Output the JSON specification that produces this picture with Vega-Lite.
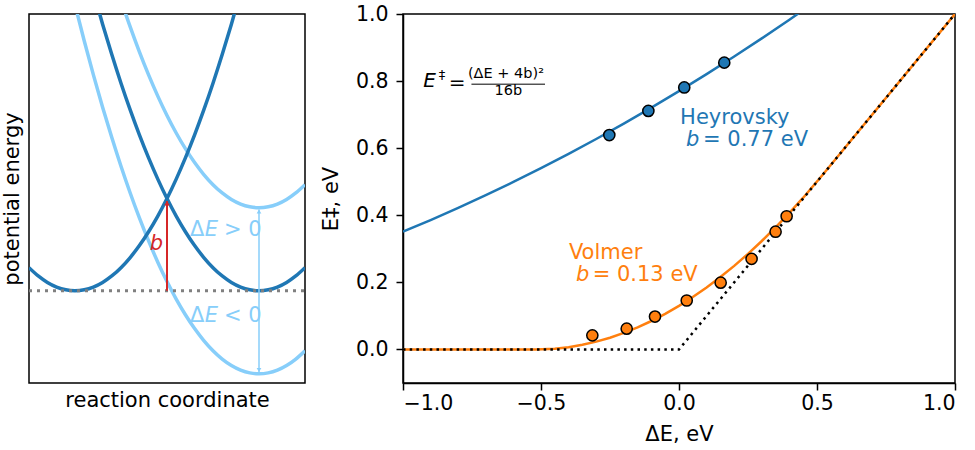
{
  "$schema": "https://vega.github.io/schema/vega-lite/v6.json",
  "background": "white",
  "padding": {"left": 0, "top": 3, "right": 10, "bottom": 0},
  "spacing": 13,
  "config": {
    "font": "DejaVu Sans",
    "view": {"stroke": "black", "strokeWidth": 1.5},
    "axis": {"grid": false, "labelFont": "DejaVu Sans", "titleFont": "DejaVu Sans", "labelFontSize": 20.5, "titleFontSize": 21, "titleFontWeight": "normal", "labelColor": "black", "titleColor": "black", "domainColor": "black", "tickColor": "black", "domainWidth": 1.5, "tickWidth": 1.5, "tickSize": 7},
    "text": {"font": "DejaVu Sans"}
  },
  "hconcat": [
    {
      "width": 276,
      "height": 369,
      "encoding": {
        "x": {"field": "x", "type": "quantitative", "scale": {"domain": [-1.5, 1.5], "nice": false}, "axis": {"title": "reaction coordinate", "labels": false, "ticks": false, "domain": false, "titlePadding": 6}},
        "y": {"field": "y", "type": "quantitative", "scale": {"domain": [-1, 3], "nice": false}, "axis": {"title": "potential energy", "labels": false, "ticks": false, "domain": false, "titlePadding": 7}}
      },
      "layer": [
        {
          "data": {"values": [
            {"curve": "up", "x": -0.6, "y": 3.46}, {"curve": "up", "x": -0.5, "y": 3.15}, {"curve": "up", "x": -0.4, "y": 2.86}, {"curve": "up", "x": -0.3, "y": 2.59}, {"curve": "up", "x": -0.2, "y": 2.34}, {"curve": "up", "x": -0.1, "y": 2.11}, {"curve": "up", "x": 0, "y": 1.9}, {"curve": "up", "x": 0.1, "y": 1.71}, {"curve": "up", "x": 0.2, "y": 1.54}, {"curve": "up", "x": 0.3, "y": 1.39}, {"curve": "up", "x": 0.4, "y": 1.26}, {"curve": "up", "x": 0.5, "y": 1.15}, {"curve": "up", "x": 0.6, "y": 1.06}, {"curve": "up", "x": 0.7, "y": 0.99}, {"curve": "up", "x": 0.8, "y": 0.94}, {"curve": "up", "x": 0.9, "y": 0.91}, {"curve": "up", "x": 1.0, "y": 0.9}, {"curve": "up", "x": 1.1, "y": 0.91}, {"curve": "up", "x": 1.2, "y": 0.94}, {"curve": "up", "x": 1.3, "y": 0.99}, {"curve": "up", "x": 1.4, "y": 1.06}, {"curve": "up", "x": 1.5, "y": 1.15},
            {"curve": "down", "x": -1.1, "y": 3.51}, {"curve": "down", "x": -1.0, "y": 3.1}, {"curve": "down", "x": -0.9, "y": 2.71}, {"curve": "down", "x": -0.8, "y": 2.34}, {"curve": "down", "x": -0.7, "y": 1.99}, {"curve": "down", "x": -0.6, "y": 1.66}, {"curve": "down", "x": -0.5, "y": 1.35}, {"curve": "down", "x": -0.4, "y": 1.06}, {"curve": "down", "x": -0.3, "y": 0.79}, {"curve": "down", "x": -0.2, "y": 0.54}, {"curve": "down", "x": -0.1, "y": 0.31}, {"curve": "down", "x": 0, "y": 0.1}, {"curve": "down", "x": 0.1, "y": -0.09}, {"curve": "down", "x": 0.2, "y": -0.26}, {"curve": "down", "x": 0.3, "y": -0.41}, {"curve": "down", "x": 0.4, "y": -0.54}, {"curve": "down", "x": 0.5, "y": -0.65}, {"curve": "down", "x": 0.6, "y": -0.74}, {"curve": "down", "x": 0.7, "y": -0.81}, {"curve": "down", "x": 0.8, "y": -0.86}, {"curve": "down", "x": 0.9, "y": -0.89}, {"curve": "down", "x": 1.0, "y": -0.9}, {"curve": "down", "x": 1.1, "y": -0.89}, {"curve": "down", "x": 1.2, "y": -0.86}, {"curve": "down", "x": 1.3, "y": -0.81}, {"curve": "down", "x": 1.4, "y": -0.74}, {"curve": "down", "x": 1.5, "y": -0.65}
          ]},
          "mark": {"type": "line", "clip": true, "strokeWidth": 3.5, "color": "#87cefa", "interpolate": "monotone"},
          "encoding": {"detail": {"field": "curve"}}
        },
        {
          "data": {"values": [
            {"curve": "L", "x": -1.5, "y": 0.25}, {"curve": "L", "x": -1.4, "y": 0.16}, {"curve": "L", "x": -1.3, "y": 0.09}, {"curve": "L", "x": -1.2, "y": 0.04}, {"curve": "L", "x": -1.1, "y": 0.01}, {"curve": "L", "x": -1.0, "y": 0}, {"curve": "L", "x": -0.9, "y": 0.01}, {"curve": "L", "x": -0.8, "y": 0.04}, {"curve": "L", "x": -0.7, "y": 0.09}, {"curve": "L", "x": -0.6, "y": 0.16}, {"curve": "L", "x": -0.5, "y": 0.25}, {"curve": "L", "x": -0.4, "y": 0.36}, {"curve": "L", "x": -0.3, "y": 0.49}, {"curve": "L", "x": -0.2, "y": 0.64}, {"curve": "L", "x": -0.1, "y": 0.81}, {"curve": "L", "x": 0, "y": 1}, {"curve": "L", "x": 0.1, "y": 1.21}, {"curve": "L", "x": 0.2, "y": 1.44}, {"curve": "L", "x": 0.3, "y": 1.69}, {"curve": "L", "x": 0.4, "y": 1.96}, {"curve": "L", "x": 0.5, "y": 2.25}, {"curve": "L", "x": 0.6, "y": 2.56}, {"curve": "L", "x": 0.7, "y": 2.89}, {"curve": "L", "x": 0.8, "y": 3.24}, {"curve": "L", "x": 0.9, "y": 3.61},
            {"curve": "R", "x": -0.9, "y": 3.61}, {"curve": "R", "x": -0.8, "y": 3.24}, {"curve": "R", "x": -0.7, "y": 2.89}, {"curve": "R", "x": -0.6, "y": 2.56}, {"curve": "R", "x": -0.5, "y": 2.25}, {"curve": "R", "x": -0.4, "y": 1.96}, {"curve": "R", "x": -0.3, "y": 1.69}, {"curve": "R", "x": -0.2, "y": 1.44}, {"curve": "R", "x": -0.1, "y": 1.21}, {"curve": "R", "x": 0, "y": 1}, {"curve": "R", "x": 0.1, "y": 0.81}, {"curve": "R", "x": 0.2, "y": 0.64}, {"curve": "R", "x": 0.3, "y": 0.49}, {"curve": "R", "x": 0.4, "y": 0.36}, {"curve": "R", "x": 0.5, "y": 0.25}, {"curve": "R", "x": 0.6, "y": 0.16}, {"curve": "R", "x": 0.7, "y": 0.09}, {"curve": "R", "x": 0.8, "y": 0.04}, {"curve": "R", "x": 0.9, "y": 0.01}, {"curve": "R", "x": 1.0, "y": 0}, {"curve": "R", "x": 1.1, "y": 0.01}, {"curve": "R", "x": 1.2, "y": 0.04}, {"curve": "R", "x": 1.3, "y": 0.09}, {"curve": "R", "x": 1.4, "y": 0.16}, {"curve": "R", "x": 1.5, "y": 0.25}
          ]},
          "mark": {"type": "line", "clip": true, "strokeWidth": 3.5, "color": "#1f77b4", "interpolate": "monotone"},
          "encoding": {"detail": {"field": "curve"}}
        },
        {
          "data": {"values": [{"x": -1.5, "y": 0}, {"x": 1.5, "y": 0}]},
          "mark": {"type": "line", "clip": true, "strokeWidth": 3, "color": "#808080", "strokeDash": [3, 5]},
          "encoding": {}
        },
        {
          "data": {"values": [{"x": 0, "y": 0, "y2": 0.97}]},
          "mark": {"type": "rule", "strokeWidth": 2, "color": "#d62728"},
          "encoding": {"y2": {"field": "y2"}}
        },
        {
          "data": {"values": [{"x": 0, "y": 0.95}]},
          "mark": {"type": "point", "shape": "triangle-up", "filled": true, "size": 30, "color": "#d62728", "opacity": 1},
          "encoding": {}
        },
        {
          "data": {"values": [{"x": 1, "y": -0.88, "y2": 0.88}]},
          "mark": {"type": "rule", "strokeWidth": 1.5, "color": "#87cefa"},
          "encoding": {"y2": {"field": "y2"}}
        },
        {
          "data": {"values": [{"x": 1, "y": 0.86, "s": "up"}, {"x": 1, "y": -0.86, "s": "down"}]},
          "mark": {"type": "point", "filled": true, "size": 22, "color": "#87cefa", "opacity": 1},
          "encoding": {"shape": {"field": "s", "type": "nominal", "scale": {"domain": ["up", "down"], "range": ["triangle-up", "triangle-down"]}, "legend": null}}
        },
        {
          "data": {"values": [{"x": -0.043, "y": 0.507, "t": "b"}]},
          "mark": {"type": "text", "align": "right", "baseline": "middle", "fontSize": 21, "fontStyle": "italic", "color": "#d62728"},
          "encoding": {"text": {"field": "t"}}
        },
        {
          "data": {"values": [{"x": 0.25, "y": 0.659, "t": "Δ"}, {"x": 0.62, "y": 0.659, "t": "> 0"}, {"x": 0.25, "y": -0.274, "t": "Δ"}, {"x": 0.62, "y": -0.274, "t": "< 0"}]},
          "mark": {"type": "text", "align": "left", "baseline": "middle", "fontSize": 21, "color": "#87cefa"},
          "encoding": {"text": {"field": "t"}}
        },
        {
          "data": {"values": [{"x": 0.41, "y": 0.659, "t": "E"}, {"x": 0.41, "y": -0.274, "t": "E"}]},
          "mark": {"type": "text", "align": "left", "baseline": "middle", "fontSize": 21, "fontStyle": "italic", "color": "#87cefa"},
          "encoding": {"text": {"field": "t"}}
        }
      ]
    },
    {
      "width": 552,
      "height": 369,
      "encoding": {
        "x": {"field": "x", "type": "quantitative", "scale": {"domain": [-1, 1], "nice": false}, "axis": {"title": "ΔE, eV", "values": [-1, -0.5, 0, 0.5, 1], "format": ".1f", "labelPadding": 3, "titlePadding": 10}},
        "y": {"field": "y", "type": "quantitative", "scale": {"domain": [-0.1, 1], "nice": false}, "axis": {"title": "E‡, eV", "values": [0, 0.2, 0.4, 0.6, 0.8, 1.0], "format": ".1f", "labelPadding": 8, "titlePadding": 14}}
      },
      "layer": [
        {
          "data": {"values": [
            {"x": -1.0, "y": 0.3512}, {"x": -0.9, "y": 0.3857}, {"x": -0.8, "y": 0.4219}, {"x": -0.7, "y": 0.4598}, {"x": -0.6, "y": 0.4992}, {"x": -0.5, "y": 0.5403}, {"x": -0.4, "y": 0.583}, {"x": -0.3, "y": 0.6273}, {"x": -0.2, "y": 0.6732}, {"x": -0.1, "y": 0.7208}, {"x": 0.0, "y": 0.77}, {"x": 0.1, "y": 0.8208}, {"x": 0.2, "y": 0.8732}, {"x": 0.3, "y": 0.9273}, {"x": 0.4, "y": 0.983}, {"x": 0.5, "y": 1.0403}
          ]},
          "mark": {"type": "line", "clip": true, "strokeWidth": 2.5, "color": "#1f77b4"},
          "encoding": {}
        },
        {
          "data": {"values": [
            {"x": -1.0, "y": 0}, {"x": -0.52, "y": 0}, {"x": -0.45, "y": 0.0024}, {"x": -0.4, "y": 0.0069}, {"x": -0.35, "y": 0.0139}, {"x": -0.3, "y": 0.0233}, {"x": -0.25, "y": 0.0350}, {"x": -0.2, "y": 0.0492}, {"x": -0.15, "y": 0.0658}, {"x": -0.1, "y": 0.0848}, {"x": -0.05, "y": 0.1062}, {"x": 0.0, "y": 0.13}, {"x": 0.05, "y": 0.1562}, {"x": 0.1, "y": 0.1848}, {"x": 0.15, "y": 0.2158}, {"x": 0.2, "y": 0.2492}, {"x": 0.25, "y": 0.285}, {"x": 0.3, "y": 0.3233}, {"x": 0.35, "y": 0.3639}, {"x": 0.4, "y": 0.4069}, {"x": 0.45, "y": 0.4524}, {"x": 0.52, "y": 0.52}, {"x": 1.0, "y": 1.0}
          ]},
          "mark": {"type": "line", "clip": true, "strokeWidth": 2.5, "color": "#ff7f0e"},
          "encoding": {}
        },
        {
          "data": {"values": [{"x": -1, "y": 0}, {"x": 0, "y": 0}, {"x": 1, "y": 1}]},
          "mark": {"type": "line", "clip": true, "strokeWidth": 2.5, "color": "black", "strokeDash": [2.5, 4.2]},
          "encoding": {}
        },
        {
          "data": {"values": [
            {"x": -0.2525, "y": 0.639}, {"x": -0.111, "y": 0.711}, {"x": 0.019, "y": 0.781}, {"x": 0.164, "y": 0.855}
          ]},
          "mark": {"type": "point", "filled": true, "size": 125, "fill": "#1f77b4", "stroke": "black", "strokeWidth": 1.5, "opacity": 1},
          "encoding": {}
        },
        {
          "data": {"values": [
            {"x": -0.314, "y": 0.042}, {"x": -0.1895, "y": 0.062}, {"x": -0.087, "y": 0.098}, {"x": 0.028, "y": 0.146}, {"x": 0.151, "y": 0.199}, {"x": 0.263, "y": 0.27}, {"x": 0.35, "y": 0.351}, {"x": 0.39, "y": 0.397}
          ]},
          "mark": {"type": "point", "filled": true, "size": 125, "fill": "#ff7f0e", "stroke": "black", "strokeWidth": 1.5, "opacity": 1},
          "encoding": {}
        },
        {
          "data": {"values": [{"x": 0.004, "y": 0.69, "t": "Heyrovsky"}, {"x": 0.087, "y": 0.625, "t": "= 0.77 eV"}]},
          "mark": {"type": "text", "align": "left", "baseline": "middle", "fontSize": 21, "color": "#1f77b4"},
          "encoding": {"text": {"field": "t"}}
        },
        {
          "data": {"values": [{"x": 0.025, "y": 0.625, "t": "b"}]},
          "mark": {"type": "text", "align": "left", "baseline": "middle", "fontSize": 21, "fontStyle": "italic", "color": "#1f77b4"},
          "encoding": {"text": {"field": "t"}}
        },
        {
          "data": {"values": [{"x": -0.399, "y": 0.289, "t": "Volmer"}, {"x": -0.3127, "y": 0.223, "t": "= 0.13 eV"}]},
          "mark": {"type": "text", "align": "left", "baseline": "middle", "fontSize": 21, "color": "#ff7f0e"},
          "encoding": {"text": {"field": "t"}}
        },
        {
          "data": {"values": [{"x": -0.373, "y": 0.223, "t": "b"}]},
          "mark": {"type": "text", "align": "left", "baseline": "middle", "fontSize": 21, "fontStyle": "italic", "color": "#ff7f0e"},
          "encoding": {"text": {"field": "t"}}
        },
        {
          "data": {"values": [{"x": -0.9264, "y": 0.8015, "t": "E"}]},
          "mark": {"type": "text", "align": "left", "baseline": "middle", "fontSize": 20, "fontStyle": "italic", "color": "black"},
          "encoding": {"text": {"field": "t"}}
        },
        {
          "data": {"values": [{"x": -0.8587, "y": 0.818, "t": "‡", "s": 13}, {"x": -0.8043, "y": 0.7955, "t": "=", "s": 20}]},
          "mark": {"type": "text", "align": "center", "baseline": "middle", "color": "black"},
          "encoding": {"text": {"field": "t"}, "size": {"field": "s", "type": "quantitative", "scale": null}}
        },
        {
          "data": {"values": [{"x": -0.627, "y": 0.8223, "t": "(ΔE + 4b)²"}, {"x": -0.618, "y": 0.769, "t": "16b"}]},
          "mark": {"type": "text", "align": "center", "baseline": "middle", "fontSize": 14.5, "color": "black"},
          "encoding": {"text": {"field": "t"}}
        },
        {
          "data": {"values": [{"x": -0.752, "x2": -0.4855, "y": 0.7908}]},
          "mark": {"type": "rule", "strokeWidth": 1, "color": "black"},
          "encoding": {"x2": {"field": "x2"}}
        }
      ]
    }
  ]
}
